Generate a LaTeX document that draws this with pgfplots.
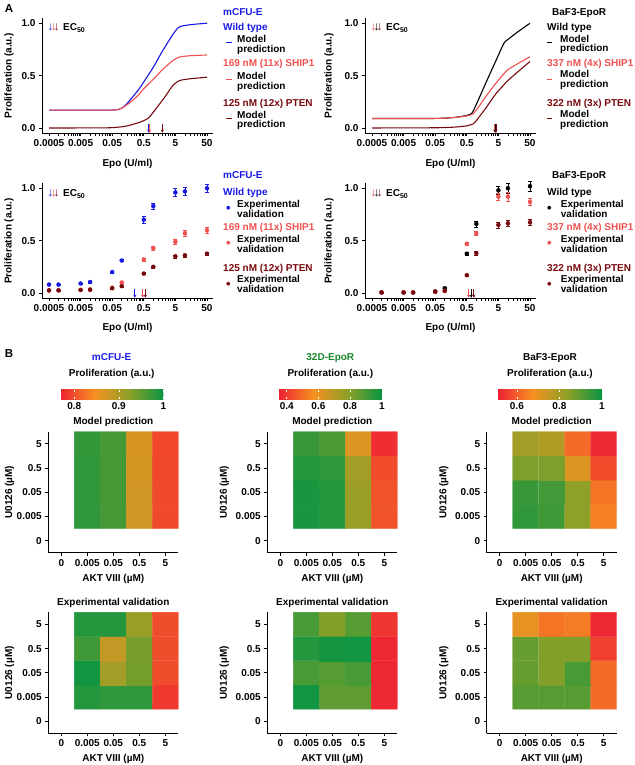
\documentclass[border=0pt]{standalone}
\usepackage{fontspec}
\setmainfont{Liberation Sans}
\usepackage{pgfplots}
\pgfplotsset{compat=1.18}
\usetikzlibrary{arrows.meta}
\definecolor{cblue}{RGB}{25,25,230}
\definecolor{cred}{RGB}{240,80,80}
\definecolor{cdark}{RGB}{120,10,15}
\definecolor{cgreen}{RGB}{25,135,40}
\newcommand\fs{\fontsize{10}{11}\selectfont\bfseries}
\pgfplotsset{
  colormap={rg}{rgb255(0cm)=(237,33,52); rgb255(1cm)=(246,145,32); rgb255(2cm)=(140,160,40); rgb255(3cm)=(10,148,66)},
  curveax/.style={scale only axis, width=171pt, height=115pt, anchor=south west,
    xmin=0.0003, xmax=77.5, ymin=-0.048, ymax=1.05,
    axis lines=left, axis line style={-, line width=0.9pt},
    xtick={0.0005,0.005,0.05,0.5,5,50}, xticklabels={0.0005,0.005,0.05,0.5,5,50},
    ytick={0,0.5,1}, yticklabels={0.0,0.5,1.0}, minor xtick={}, minor ytick={},
    tick align=outside, major tick length=3pt, tick style={black, line width=0.8pt},
    ticklabel style={font=\fs}, clip=false},
  heatax/.style={scale only axis, width=130pt, height=121pt, anchor=south west,
    xmin=-0.5, xmax=4.5, ymin=-0.5, ymax=4.5,
    axis lines=left, axis line style={-, line width=0.9pt},
    xtick={0,1,2,3,4}, ytick={0,1,2,3,4},
    xticklabels={0,0.005,0.05,0.5,5}, yticklabels={0,0.005,0.05,0.5,5},
    tick align=outside, major tick length=3pt, tick style={black, line width=0.8pt},
    ticklabel style={font=\fs}, colormap name=rg},
  cbar/.style={scale only axis, height=9.5pt, anchor=south west,
    ticklabel style={font=\fs}, axis line style={draw=none},
    major tick length=2pt, tick align=inside, tick style={white, line width=0.5pt}},
  mline/.style={line width=1.1pt, smooth, tension=0.35},
  ec/.style={line width=0.9pt, -{Stealth[length=3pt,width=3.2pt]}},
  expm/.style={only marks, mark=*, mark size=2pt, error bars/y dir=both, error bars/y explicit,
    error bars/error bar style={line width=0.8pt}},
  hm/.style={matrix plot*, mesh/cols=4, point meta=explicit},
}
\newcommand\T[4][]{\node[txt,anchor=west,#1] at (#2pt,-#3pt) {#4};}
\newcommand\C[4][]{\node[txt,#1] at (#2pt,-#3pt) {#4};}
\newcommand\lnk{\rule[2.6pt]{5.5pt}{1.4pt}}
\newcommand\dt{{\fontsize{13}{13}\selectfont\textbullet}}
\newcommand\arr[3]{{\fontsize{12}{12}\selectfont\makebox[3.2pt][c]{\textcolor{#1}{↓}}\makebox[3.2pt][c]{\textcolor{#2}{↓}}\makebox[3.2pt][c]{\textcolor{#3}{↓}}}}
\begin{document}
\begin{tikzpicture}[txt/.style={font=\fs, inner sep=0pt, text height=7.2pt, text depth=0pt}]
\path[use as bounding box] (0pt,0pt) rectangle (634pt,-765pt);
\node[txt, font=\fontsize{11.5}{12}\selectfont\bfseries] at (9pt,-8.5pt) {A};
\node[txt, font=\fontsize{11.5}{12}\selectfont\bfseries] at (9pt,-354pt) {B};

% ---------- top left: mCFU-E model ----------
\begin{semilogxaxis}[curveax, at={(42pt,-133pt)}]
\addplot[cblue, mline] coordinates {(0.0005,0.17) (0.01,0.17) (0.05,0.171) (0.08,0.177) (0.12,0.205) (0.2,0.28) (0.35,0.37) (0.5,0.44) (1,0.58) (2,0.74) (4,0.885) (6,0.955) (8,0.973) (15,0.986) (30,0.995) (50,1.0)};
\addplot[cred, mline] coordinates {(0.0005,0.17) (0.01,0.17) (0.05,0.171) (0.08,0.177) (0.12,0.203) (0.2,0.252) (0.35,0.32) (0.5,0.375) (1,0.465) (2,0.56) (4,0.64) (6,0.672) (8,0.682) (15,0.69) (50,0.697)};
\addplot[cdark, mline] coordinates {(0.0005,0) (0.03,0.001) (0.08,0.008) (0.15,0.02) (0.3,0.045) (0.5,0.07) (0.7,0.095) (1,0.15) (1.5,0.22) (2.5,0.31) (4,0.4) (6,0.445) (8,0.458) (15,0.47) (50,0.485)};
\addplot[cblue, ec] coordinates {(0.71,0.035) (0.71,-0.045)};
\addplot[cred, ec] coordinates {(0.77,0.035) (0.77,-0.045)};
\addplot[cdark, ec] coordinates {(1.93,0.035) (1.93,-0.045)};
\end{semilogxaxis}
\C[rotate=90]{8}{75.7}{Proliferation (a.u.)}
\C{127.5}{163}{Epo (U/ml)}
\T{48.5}{27}{\arr{cblue}{cred}{cdark}}
\T{63}{27}{EC\textsubscript{50}}
\T[text=cblue]{223}{12}{mCFU-E}
\T[text=cblue]{223}{27}{Wild type}
\C[text=cblue]{229}{42}{\lnk}
\T{237}{39}{Model}
\T{237}{48.5}{prediction}
\T[text=cred]{223}{63}{169 nM (11x) SHIP1}
\C[text=cred]{229}{79}{\lnk}
\T{237}{76}{Model}
\T{237}{85.5}{prediction}
\T[text=cdark]{223}{103}{125 nM (12x) PTEN}
\C[text=cdark]{229}{118}{\lnk}
\T{237}{114.5}{Model}
\T{237}{124}{prediction}

% ---------- top right: BaF3-EpoR model ----------
\begin{semilogxaxis}[curveax, at={(365pt,-133pt)}]
\addplot[black, mline] coordinates {(0.0005,0.09) (0.05,0.091) (0.2,0.1) (0.5,0.12) (0.72,0.14) (1,0.225) (2,0.43) (4,0.63) (7.5,0.81) (10,0.845) (20,0.915) (50,1.0)};
\addplot[cred, mline] coordinates {(0.0005,0.09) (0.05,0.091) (0.2,0.1) (0.5,0.115) (0.75,0.13) (1,0.17) (2,0.3) (4,0.42) (9,0.545) (15,0.59) (50,0.68)};
\addplot[cdark, mline] coordinates {(0.0005,0) (0.05,0.002) (0.2,0.008) (0.5,0.02) (0.8,0.04) (1,0.07) (2,0.19) (4,0.32) (9,0.44) (15,0.5) (50,0.635)};
\addplot[cred, ec] coordinates {(3.8,0.035) (3.8,-0.045)};
\addplot[black, ec] coordinates {(4.0,0.035) (4.0,-0.045)};
\addplot[cdark, ec] coordinates {(4.2,0.035) (4.2,-0.045)};
\end{semilogxaxis}
\C[rotate=90]{328}{75.7}{Proliferation (a.u.)}
\C{450.5}{163}{Epo (U/ml)}
\T{371.5}{27}{\arr{cred}{black}{cdark}}
\T{386}{27}{EC\textsubscript{50}}
\T{552}{12}{BaF3-EpoR}
\T{547}{27}{Wild type}
\C{549.3}{42}{\lnk}
\T{560}{38.5}{Model}
\T{560}{48}{prediction}
\T[text=cred]{547}{63}{337 nM (4x) SHIP1}
\C[text=cred]{549.3}{79}{\lnk}
\T{560}{74}{Model}
\T{560}{83.5}{prediction}
\T[text=cdark]{547}{103}{322 nM (3x) PTEN}
\C[text=cdark]{549.3}{118}{\lnk}
\T{560}{113.5}{Model}
\T{560}{123.5}{prediction}

% ---------- bottom left: mCFU-E experimental ----------
\begin{semilogxaxis}[curveax, at={(42pt,-298pt)}]
\addplot[cblue, expm] coordinates {(0.0005,0.08) +- (0,0.005) (0.001,0.08) +- (0,0.005) (0.005,0.09) +- (0,0.006) (0.01,0.105) +- (0,0.007) (0.05,0.20) +- (0,0.008) (0.1,0.31) +- (0,0.01) (0.5,0.70) +- (0,0.03) (1,0.83) +- (0,0.03) (5,0.96) +- (0,0.04) (10,0.97) +- (0,0.04) (50,1.0) +- (0,0.04)};
\addplot[cred, expm] coordinates {(0.0005,0.025) +- (0,0.004) (0.001,0.025) +- (0,0.004) (0.005,0.03) +- (0,0.004) (0.01,0.035) +- (0,0.004) (0.05,0.05) +- (0,0.006) (0.1,0.10) +- (0,0.008) (0.5,0.32) +- (0,0.015) (1,0.43) +- (0,0.02) (5,0.49) +- (0,0.02) (10,0.57) +- (0,0.025) (50,0.60) +- (0,0.025)};
\addplot[cdark, expm] coordinates {(0.0005,0.025) +- (0,0.004) (0.001,0.025) +- (0,0.004) (0.005,0.028) +- (0,0.004) (0.01,0.03) +- (0,0.004) (0.05,0.045) +- (0,0.005) (0.1,0.065) +- (0,0.006) (0.5,0.185) +- (0,0.01) (1,0.25) +- (0,0.01) (5,0.35) +- (0,0.015) (10,0.36) +- (0,0.015) (50,0.375) +- (0,0.015)};
\addplot[cblue, ec] coordinates {(0.26,0.035) (0.26,-0.045)};
\addplot[cred, ec] coordinates {(0.46,0.035) (0.46,-0.045)};
\addplot[cdark, ec] coordinates {(0.56,0.035) (0.56,-0.045)};
\end{semilogxaxis}
\C[rotate=90]{8}{241}{Proliferation (a.u.)}
\C{127.5}{327}{Epo (U/ml)}
\T{48.5}{193}{\arr{cblue}{cred}{cdark}}
\T{63}{193}{EC\textsubscript{50}}
\T[text=cblue]{223}{175}{mCFU-E}
\T[text=cblue]{223}{192}{Wild type}
\C[text=cblue]{228.5}{209.3}{\dt}
\T{237}{204.3}{Experimental}
\T{237}{214}{validation}
\T[text=cred]{223}{226.7}{169 nM (11x) SHIP1}
\C[text=cred]{228.5}{244}{\dt}
\T{237}{239.3}{Experimental}
\T{237}{249.3}{validation}
\T[text=cdark]{223}{267.7}{125 nM (12x) PTEN}
\C[text=cdark]{228.5}{285}{\dt}
\T{237}{279.3}{Experimental}
\T{237}{289}{validation}

% ---------- bottom right: BaF3-EpoR experimental ----------
\begin{semilogxaxis}[curveax, at={(365pt,-298pt)}]
\addplot[black, expm] coordinates {(0.001,0.005) +- (0,0.004) (0.005,0.005) +- (0,0.004) (0.01,0.005) +- (0,0.004) (0.05,0.015) +- (0,0.006) (0.1,0.045) +- (0,0.01) (0.5,0.375) +- (0,0.015) (1,0.66) +- (0,0.03) (5,0.98) +- (0,0.04) (10,1.0) +- (0,0.045) (50,1.02) +- (0,0.045)};
\addplot[cred, expm] coordinates {(0.001,0.005) +- (0,0.004) (0.005,0.005) +- (0,0.004) (0.01,0.005) +- (0,0.004) (0.05,0.012) +- (0,0.005) (0.1,0.02) +- (0,0.006) (0.5,0.47) +- (0,0.015) (1,0.57) +- (0,0.02) (5,0.92) +- (0,0.035) (10,0.92) +- (0,0.04) (50,0.87) +- (0,0.035)};
\addplot[cdark, expm] coordinates {(0.001,0.005) +- (0,0.004) (0.005,0.005) +- (0,0.004) (0.01,0.005) +- (0,0.004) (0.05,0.012) +- (0,0.005) (0.1,0.02) +- (0,0.006) (0.5,0.17) +- (0,0.01) (1,0.38) +- (0,0.015) (5,0.65) +- (0,0.03) (10,0.665) +- (0,0.03) (50,0.675) +- (0,0.03)};
\addplot[cred, ec] coordinates {(0.57,0.035) (0.57,-0.045)};
\addplot[black, ec] coordinates {(0.69,0.035) (0.69,-0.045)};
\addplot[cdark, ec] coordinates {(0.84,0.035) (0.84,-0.045)};
\end{semilogxaxis}
\C[rotate=90]{328}{241}{Proliferation (a.u.)}
\C{450.5}{327}{Epo (U/ml)}
\T{371.5}{193}{\arr{cred}{black}{cdark}}
\T{386}{193}{EC\textsubscript{50}}
\T{552}{175}{BaF3-EpoR}
\T{547}{192}{Wild type}
\C{549.3}{209.3}{\dt}
\T{560.7}{204.3}{Experimental}
\T{560.7}{214}{validation}
\T[text=cred]{547}{226.7}{337 nM (4x) SHIP1}
\C[text=cred]{549.3}{244}{\dt}
\T{560.7}{239.3}{Experimental}
\T{560.7}{249.3}{validation}
\T[text=cdark]{547}{267.7}{322 nM (3x) PTEN}
\C[text=cdark]{549.3}{285}{\dt}
\T{560.7}{279.3}{Experimental}
\T{560.7}{289}{validation}

% ---------- B: heatmaps ----------
\C[text=cblue]{111.7}{356.7}{mCFU-E}
\C[text=cgreen]{330.3}{356.7}{32D-EpoR}
\C{550}{356.7}{BaF3-EpoR}
\C{111.7}{372.7}{Proliferation (a.u.)}
\C{330.3}{372.7}{Proliferation (a.u.)}
\C{550}{372.7}{Proliferation (a.u.)}

\begin{axis}[heatax, at={(48.3pt,-552.7pt)}, point meta min=0.768, point meta max=1,
  colorbar horizontal, colorbar style={cbar, at={(60pt,-390.5pt)}, width=103.3pt, xtick={0.8,0.9,1}, xticklabels={0.8,0.9,1}}]
\addplot[hm] coordinates {
(1,1) [0.977] (2,1) [0.965] (3,1) [0.872] (4,1) [0.796]
(1,2) [0.977] (2,2) [0.965] (3,2) [0.872] (4,2) [0.796]
(1,3) [0.977] (2,3) [0.965] (3,3) [0.871] (4,3) [0.795]
(1,4) [0.976] (2,4) [0.964] (3,4) [0.866] (4,4) [0.794]};
\end{axis}
\begin{axis}[heatax, at={(267.3pt,-552.7pt)}, point meta min=0.35, point meta max=1,
  colorbar horizontal, colorbar style={cbar, at={(278.8pt,-390.5pt)}, width=103pt, xtick={0.4,0.6,0.8,1}, xticklabels={0.4,0.6,0.8,1}}]
\addplot[hm] coordinates {
(1,1) [0.974] (2,1) [0.955] (3,1) [0.753] (4,1) [0.448]
(1,2) [0.974] (2,2) [0.955] (3,2) [0.753] (4,2) [0.448]
(1,3) [0.955] (2,3) [0.935] (3,3) [0.740] (4,3) [0.435]
(1,4) [0.922] (2,4) [0.890] (3,4) [0.623] (4,4) [0.376]};
\end{axis}
\begin{axis}[heatax, at={(486.7pt,-552.7pt)}, point meta min=0.51, point meta max=1,
  colorbar horizontal, colorbar style={cbar, at={(497.7pt,-390.5pt)}, width=104.3pt, xtick={0.6,0.8,1}, xticklabels={0.6,0.8,1}}]
\addplot[hm] coordinates {
(1,1) [0.951] (2,1) [0.931] (3,1) [0.833] (4,1) [0.647]
(1,2) [0.941] (2,2) [0.927] (3,2) [0.833] (4,2) [0.633]
(1,3) [0.853] (2,3) [0.853] (3,3) [0.716] (4,3) [0.574]
(1,4) [0.804] (2,4) [0.780] (3,4) [0.618] (4,4) [0.525]};
\end{axis}

\begin{axis}[heatax, at={(48.3pt,-733.3pt)}, point meta min=0.768, point meta max=1]
\addplot[hm] coordinates {
(1,1) [0.984] (2,1) [0.977] (3,1) [0.977] (4,1) [0.784]
(1,2) [0.995] (2,2) [0.907] (3,2) [0.937] (4,2) [0.798]
(1,3) [0.968] (2,3) [0.884] (3,3) [0.935] (4,3) [0.798]
(1,4) [0.984] (2,4) [0.984] (3,4) [0.912] (4,4) [0.798]};
\end{axis}
\begin{axis}[heatax, at={(267.3pt,-733.3pt)}, point meta min=0.35, point meta max=1]
\addplot[hm] coordinates {
(1,1) [0.987] (2,1) [0.857] (3,1) [0.857] (4,1) [0.363]
(1,2) [0.896] (2,2) [0.870] (3,2) [0.896] (4,2) [0.363]
(1,3) [0.955] (2,3) [0.981] (3,3) [0.987] (4,3) [0.363]
(1,4) [0.896] (2,4) [0.799] (3,4) [0.870] (4,4) [0.389]};
\end{axis}
\begin{axis}[heatax, at={(486.7pt,-733.3pt)}, point meta min=0.51, point meta max=1]
\addplot[hm] coordinates {
(1,1) [0.902] (2,1) [0.902] (3,1) [0.902] (4,1) [0.618]
(1,2) [0.882] (2,2) [0.848] (3,2) [0.922] (4,2) [0.618]
(1,3) [0.882] (2,3) [0.848] (3,3) [0.848] (4,3) [0.554]
(1,4) [0.696] (2,4) [0.633] (3,4) [0.642] (4,4) [0.520]};
\end{axis}

\foreach \cx/\ax in {113.3/8.5, 332.3/223.3, 551.7/442.7}{
  \C{\cx}{421}{Model prediction}
  \C{\cx}{601.7}{Experimental validation}
  \C{\cx}{577.7}{AKT VIII (µM)}
  \C{\cx}{757.7}{AKT VIII (µM)}
  \C[rotate=90]{\ax}{492.2}{U0126 (µM)}
  \C[rotate=90]{\ax}{672.8}{U0126 (µM)}
}
\end{tikzpicture}
\end{document}
